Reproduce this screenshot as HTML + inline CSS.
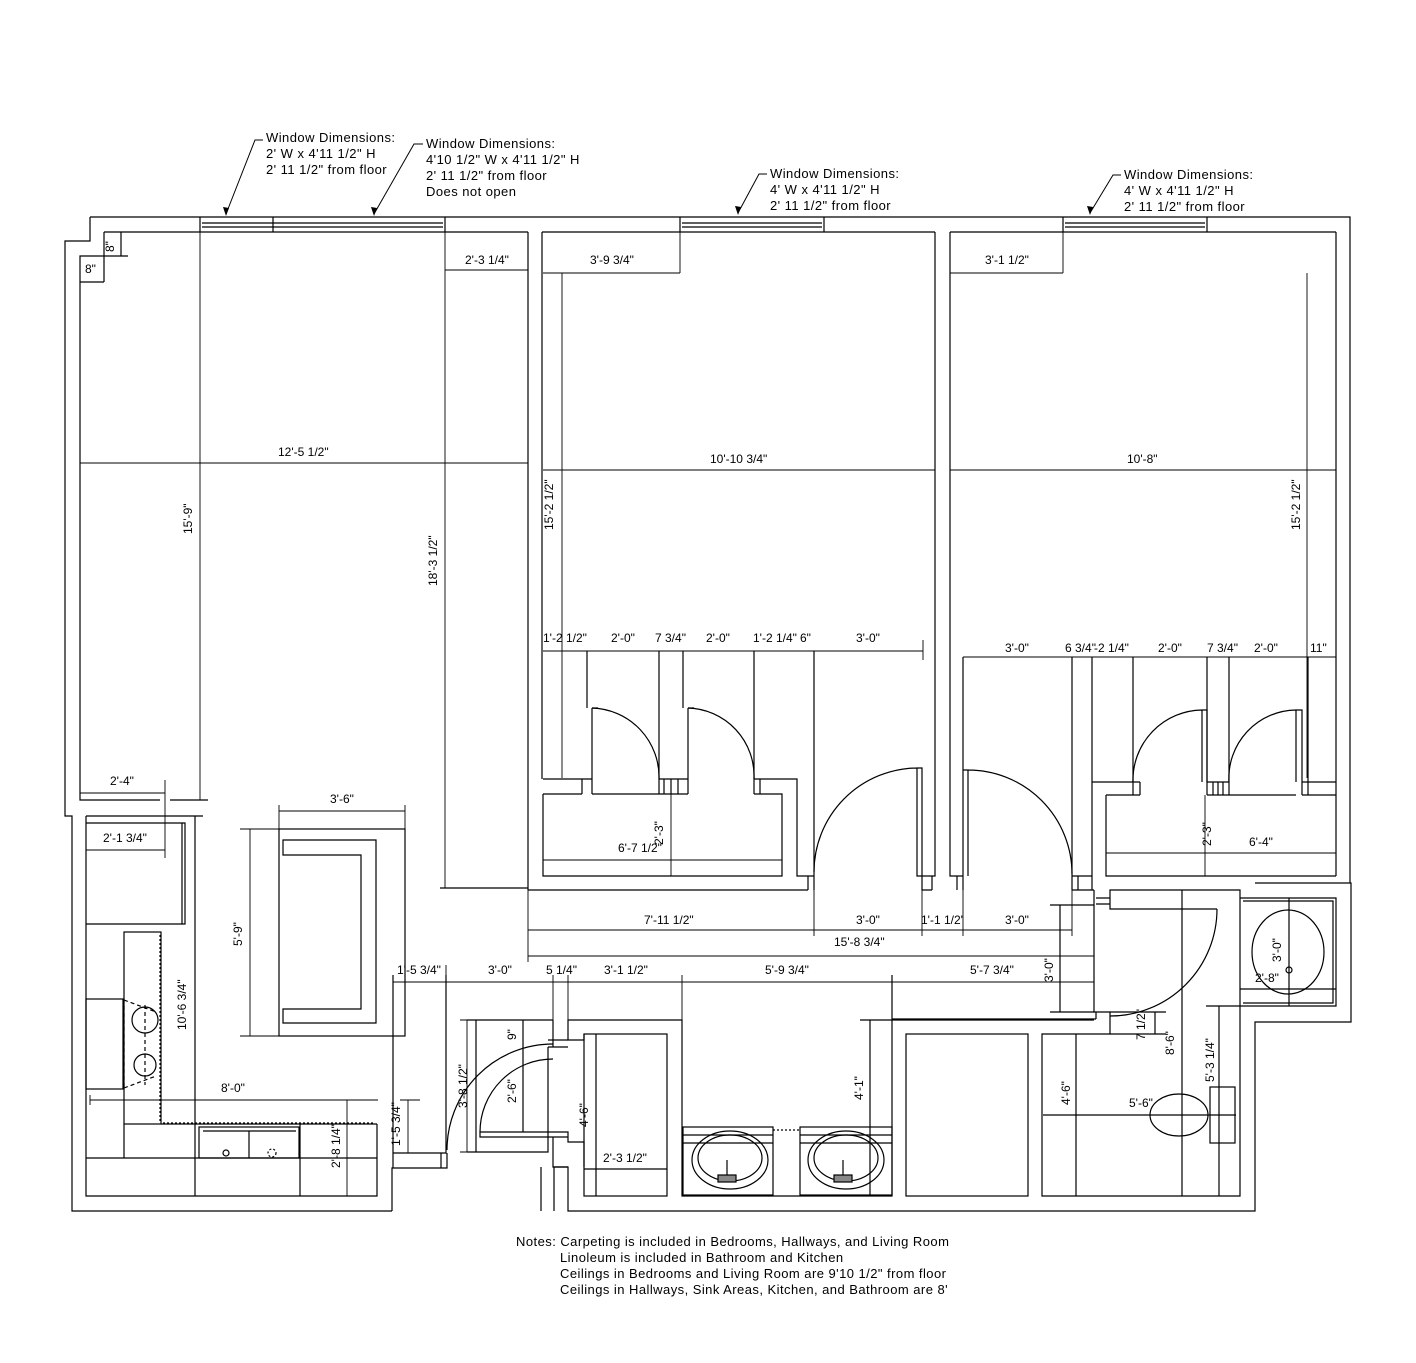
<!DOCTYPE html>
<html><head><meta charset="utf-8"><style>
html,body{margin:0;padding:0;background:#fff;}
svg{display:block;}
text{font-family:"Liberation Sans",Arial,sans-serif;font-size:12px;fill:#000;}
.big{font-size:13px;letter-spacing:0.45px;}
</style></head><body>
<svg width="1416" height="1363" viewBox="0 0 1416 1363" xmlns="http://www.w3.org/2000/svg">
<g fill="none" stroke="#000" stroke-width="1.2">
<path d="M90 217 H1350 V883 M1255 883 H1351 V1022 H1255 V1211 H568 V1167 H554 V1211 M541 1211 V1167 M392 1211 H72 V816 H65 V241 H90 V217"/>
<path d="M392 1211 V1168 H447 V1153"/>
<path d="M104 232 H528 M542 232 H935 M950 232 H1336"/>
<path d="M104 232 V256 H80 V800 H160 M170 800 H208"/>
<path d="M200 217 V232 M273 217 V232 M445 217 V232 M202 223 H443 M202 227 H443 M680 217 V232 M824 217 V232 M682 223 H822 M682 227 H822 M1063 217 V232 M1207 217 V232 M1065 223 H1205 M1065 227 H1205"/>
<path d="M528 232 V890 M542 232 V779"/>
<path d="M440 888 H528"/>
<path d="M543 779 H592 V708 M587 651 V708 M582 779 V794 M592 779 V794 M543 794 H582 M543 794 V876 H782 V794 H754 M592 794 H659 M659 651 V779 H688 V708 M683 651 V708 M664 779 V794 M671 779 V794 M678 779 V794 M659 794 H688 M659 779 V794 M688 779 V794 M754 651 V794 M760 779 V794 M754 779 H797 V876 H814 M808 876 V890 M814 651 V890"/>
<path d="M592 708 H598 M688 708 H694"/>
<path d="M592 708 A69 69 0 0 1 659 779 M688 708 A68 68 0 0 1 754 779"/>
<path d="M917 768 H922 V876 H917 Z M917 768 A104 104 0 0 0 814 872"/>
<path d="M935 232 V876 H922 M922 876 V890 H932 M932 876 V890"/>
<path d="M528 890 H808"/>
<path d="M950 232 V876 H963 M957 876 V890 M963 876 V890 M963 657 V876"/>
<path d="M963 770 H968 V876 M968 770 A104 104 0 0 1 1072 874"/>
<path d="M1072 657 V876 H1092 V657 M1072 876 V890 M1078 876 V890 M1092 876 V890 M1072 890 H1094"/>
<path d="M1092 782 H1133 V795 M1140 782 V795 M1106 795 H1140 M1106 795 V876 H1336 M1133 657 V782 H1140"/>
<path d="M1202 710 H1207 V782 M1202 710 V782 M1202 710 A70 70 0 0 0 1133 782"/>
<path d="M1207 657 V795 M1229 657 V795 M1207 782 H1229 M1213 782 V795 M1218 782 V795 M1223 782 V795 M1207 795 H1229 M1229 795 H1296"/>
<path d="M1296 710 H1302 V782 M1296 710 V782 M1296 710 A68 68 0 0 0 1229 782"/>
<path d="M1302 782 H1336 M1302 782 V795 M1308 657 V795 M1302 795 H1336 M1336 232 V876"/>
<path d="M1094 890 V1012 H1110 V1034 H1042 V1196 H1240 V890 H1110 V909 H1217 M1110 890 V909 M1096 898 H1110 M1096 904 H1110 M1096 1012 V1019 M1096 1019 H892"/>
<path d="M1217 909 A107 107 0 0 1 1110 1016"/>
<path d="M1240 898 H1336 V1006 H1240 M1243 901 H1333 V1003 H1243"/>
<ellipse cx="1288" cy="952" rx="36" ry="42"/>
<circle cx="1289" cy="970" r="3"/>
<path d="M1289 898 V1006 M1240 989 H1336"/>
<path d="M1182 890 V1196 M1219 1006 V1196 M1206 1006 H1240 M1076 1034 V1196 M1155 1012 V1034 M1110 1012 H1166 M1110 1034 H1166 M1043 1115 H1236"/>
<rect x="1210" y="1087" width="25" height="56"/>
<ellipse cx="1179" cy="1115" rx="29" ry="21"/>
<path d="M1060 905 V1012 M1050 905 H1094 M1050 1012 H1094"/>
<rect x="906" y="1034" width="122" height="162"/>
<path d="M892 975 V1196 H682 V1020 H568 V1040 H584 V1034 M892 1020 H1094 M870 1020 V1196 M860 1020 H892"/>
<rect x="584" y="1034" width="83" height="162"/>
<path d="M596 1034 V1196 M584 1169 H667"/>
<path d="M467 1020 H553 M476 1020 V1152 M467 1152 H548 V1047 M553 1020 V1047 M548 1040 H568 M548 1047 H568 M480 1132 H568 V1137 H480 Z M568 1137 V1142 H584 V1167 M553 1137 V1167 H568 M523 1020 V1132"/>
<path d="M447 1150 A106 106 0 0 1 553 1044 M480 1132 A73 73 0 0 1 553 1059"/>
<rect x="683" y="1127" width="90" height="68"/><rect x="800" y="1127" width="92" height="68"/>
<path d="M683 1135 H773 M683 1143 H773 M800 1135 H892 M800 1143 H892"/>
<path d="M773 1130 H800" stroke-dasharray="2 2"/>
<ellipse cx="730" cy="1160" rx="38" ry="29"/><ellipse cx="730" cy="1158" rx="32" ry="23"/>
<ellipse cx="846" cy="1160" rx="38" ry="29"/><ellipse cx="846" cy="1158" rx="32" ry="23"/>
<path d="M727 1160 V1175 M843 1160 V1175"/>
<rect x="718" y="1175" width="18" height="7" fill="#888"/><rect x="834" y="1175" width="18" height="7" fill="#888"/>
<path d="M393 975 V1153 H441 V1168 M446 975 V1153 H441 M393 1153 V1168"/>
<path d="M86 816 H203 M86 816 V1196 H377 V1124 M86 1158 H377 M124 1124 V1158 M300 1124 V1196 M195 816 V1196"/>
<path d="M86 823 H185 V924 H86 M182 823 V924"/>
<rect x="124" y="932" width="37" height="192"/>
<path d="M160 935 V1122 M163 1123 H375" stroke-dasharray="2 2"/>
<path d="M161 1124 H377"/>
<rect x="86" y="999" width="37" height="90"/>
<path d="M124 999 V1089 M124 1000 L156 1012 M124 1088 L156 1076 M145 1005 V1085" stroke-dasharray="4 3"/>
<circle cx="145" cy="1020" r="13"/><circle cx="145" cy="1065" r="11"/>
<rect x="199" y="1127" width="100" height="31"/>
<path d="M203 1131 H296 M249 1131 V1158"/>
<circle cx="226" cy="1153" r="3"/><circle cx="272" cy="1153" r="4" stroke-dasharray="2 2"/>
<rect x="279" y="829" width="126" height="207"/>
<path d="M283 840 H376 V1023 H283 V1009 H361 V855 H283 Z"/>
<path d="M121 232 V256 M104 256 H128 M104 256 V282 M80 282 H104"/>
</g>
<g fill="none" stroke="#000" stroke-width="0.9">
<path d="M80 463 H528 M200 232 V800 M445 232 V888 M445 270 H528 M543 273 H680 M680 232 V273 M950 273 H1063 M1063 232 V273 M543 470 H935 M950 470 H1336 M562 273 V778 M1307 273 V778"/>
<path d="M543 651 H923 M963 657 H1336 M923 640 V660"/>
<path d="M543 860 H782 M671 794 V876 M1106 853 H1336 M1205 795 V876"/>
<path d="M528 890 V962 M814 890 V936 M922 890 V936 M963 890 V936 M1072 876 V936 M528 930 H1072 M528 956 H1094 M393 982 H1094 M682 975 V1020 M892 975 V1020 M553 975 V1020 M568 975 V1020 M446 965 V982"/>
<path d="M80 793 H165 M165 780 V858 M86 850 H165 M279 811 H405 M279 805 V829 M405 805 V829 M250 829 V1036 M240 829 H279 M240 1036 H279 M90 1100 H378 M90 1095 V1105 M347 1100 V1196 M408 1100 V1153 M400 1100 H420"/>
<path d="M467 1020 V1152 M460 1020 H476 M460 1152 H476"/>
</g>
<g fill="none" stroke="#000" stroke-width="1">
<path d="M263 140 H255 L226 214 M423 144 H414 L374 214 M767 174 H759 L738 213 M1121 175 H1113 L1090 213"/>
</g>
<g fill="#000">
<path d="M226 216 L223 207 L229 208 Z M374 216 L371 207 L377 208 Z M738 215 L735 206 L741 207 Z M1090 215 L1087 206 L1093 207 Z"/>
</g>
<g>
<text class="big" x="266" y="142">Window Dimensions:</text><text class="big" x="266" y="158">2' W x 4'11 1/2" H</text><text class="big" x="266" y="174">2' 11 1/2" from floor</text>
<text class="big" x="426" y="148">Window Dimensions:</text><text class="big" x="426" y="164">4'10 1/2" W x 4'11 1/2" H</text><text class="big" x="426" y="180">2' 11 1/2" from floor</text><text class="big" x="426" y="196">Does not open</text>
<text class="big" x="770" y="178">Window Dimensions:</text><text class="big" x="770" y="194">4' W x 4'11 1/2" H</text><text class="big" x="770" y="210">2' 11 1/2" from floor</text>
<text class="big" x="1124" y="179">Window Dimensions:</text><text class="big" x="1124" y="195">4' W x 4'11 1/2" H</text><text class="big" x="1124" y="211">2' 11 1/2" from floor</text>
<text x="465" y="264" font-size="11">2'-3 1/4"</text>
<text x="590" y="264" font-size="11">3'-9 3/4"</text>
<text x="985" y="264" font-size="11">3'-1 1/2"</text>
<text x="278" y="456" font-size="11">12'-5 1/2"</text>
<text x="710" y="463" font-size="11">10'-10 3/4"</text>
<text x="1127" y="463" font-size="11">10'-8"</text>
<text x="85" y="273" font-size="11">8"</text>
<text font-size="11" transform="translate(114,252) rotate(-90)">8"</text>
<text font-size="11" transform="translate(192,534) rotate(-90)">15'-9"</text>
<text font-size="11" transform="translate(437,586) rotate(-90)">18'-3 1/2"</text>
<text font-size="11" transform="translate(553,530) rotate(-90)">15'-2 1/2"</text>
<text font-size="11" transform="translate(1300,530) rotate(-90)">15'-2 1/2"</text>
<text x="543" y="642" font-size="11">1'-2 1/2"</text><text x="611" y="642" font-size="11">2'-0"</text><text x="655" y="642" font-size="11">7 3/4"</text><text x="706" y="642" font-size="11">2'-0"</text><text x="753" y="642" font-size="11">1'-2 1/4"</text><text x="800" y="642" font-size="11">6"</text><text x="856" y="642" font-size="11">3'-0"</text>
<text x="1005" y="652" font-size="11">3'-0"</text><text x="1065" y="652" font-size="11">6 3/4"</text><text x="1094" y="652" font-size="11">-2 1/4"</text><text x="1158" y="652" font-size="11">2'-0"</text><text x="1207" y="652" font-size="11">7 3/4"</text><text x="1254" y="652" font-size="11">2'-0"</text><text x="1310" y="652" font-size="11">11"</text>
<text x="618" y="852" font-size="11">6'-7 1/2"</text>
<text font-size="11" transform="translate(663,845) rotate(-90)">2'-3"</text>
<text x="1249" y="846" font-size="11">6'-4"</text>
<text font-size="11" transform="translate(1211,846) rotate(-90)">2'-3"</text>
<text x="644" y="924" font-size="11">7'-11 1/2"</text><text x="856" y="924" font-size="11">3'-0"</text><text x="921" y="924" font-size="11">1'-1 1/2'</text><text x="1005" y="924" font-size="11">3'-0"</text>
<text x="834" y="946" font-size="11">15'-8 3/4"</text>
<text x="397" y="974" font-size="11">1'-5 3/4"</text><text x="488" y="974" font-size="11">3'-0"</text><text x="546" y="974" font-size="11">5 1/4"</text><text x="604" y="974" font-size="11">3'-1 1/2"</text><text x="765" y="974" font-size="11">5'-9 3/4"</text><text x="970" y="974" font-size="11">5'-7 3/4"</text>
<text font-size="11" transform="translate(1053,982) rotate(-90)">3'-0"</text>
<text x="110" y="785" font-size="11">2'-4"</text>
<text x="103" y="842" font-size="11">2'-1 3/4"</text>
<text x="330" y="803" font-size="11">3'-6"</text>
<text font-size="11" transform="translate(242,946) rotate(-90)">5'-9"</text>
<text font-size="11" transform="translate(186,1030) rotate(-90)">10'-6 3/4"</text>
<text x="221" y="1092" font-size="11">8'-0"</text>
<text font-size="11" transform="translate(340,1168) rotate(-90)">2'-8 1/4"</text>
<text font-size="11" transform="translate(400,1146) rotate(-90)">1'-5 3/4"</text>
<text font-size="11" transform="translate(516,1040) rotate(-90)">9"</text>
<text font-size="11" transform="translate(467,1108) rotate(-90)">3'-8 1/2"</text>
<text font-size="11" transform="translate(516,1103) rotate(-90)">2'-6"</text>
<text font-size="11" transform="translate(588,1127) rotate(-90)">4'-6"</text>
<text x="603" y="1162" font-size="11">2'-3 1/2"</text>
<text font-size="11" transform="translate(863,1100) rotate(-90)">4'-1"</text>
<text font-size="11" transform="translate(1281,962) rotate(-90)">3'-0"</text>
<text x="1255" y="982" font-size="11">2'-8"</text>
<text font-size="11" transform="translate(1145,1040) rotate(-90)">7 1/2"</text>
<text font-size="11" transform="translate(1174,1055) rotate(-90)">8'-6"</text>
<text font-size="11" transform="translate(1214,1082) rotate(-90)">5'-3 1/4"</text>
<text font-size="11" transform="translate(1070,1105) rotate(-90)">4'-6"</text>
<text x="1129" y="1107" font-size="11">5'-6"</text>
<text class="big" x="516" y="1246">Notes: Carpeting is included in Bedrooms, Hallways, and Living Room</text>
<text class="big" x="560" y="1262">Linoleum is included in Bathroom and Kitchen</text>
<text class="big" x="560" y="1278">Ceilings in Bedrooms and Living Room are 9'10 1/2" from floor</text>
<text class="big" x="560" y="1294">Ceilings in Hallways, Sink Areas, Kitchen, and Bathroom are 8'</text>
</g>
</svg>
</body></html>
